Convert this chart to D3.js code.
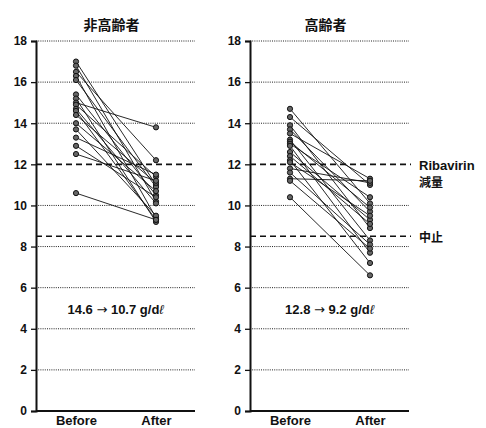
<!DOCTYPE html>
<html>
<head>
<meta charset="utf-8">
<script src="https://cdn.jsdelivr.net/npm/d3@7"></script>
<style>
  html, body { margin: 0; padding: 0; background: #fff; }
  svg { display: block; }
  text { font-family: "Liberation Sans", Arial, sans-serif; font-weight: bold; fill: #111; }
</style>
</head>
<body>
<svg id="chart" width="486" height="428"></svg>
<script>
// Hemoglobin (g/dl) before and after treatment, paired per patient
const panelTitles = ["非高齢者", "高齢者"];
const timepoints = ["Before", "After"];
const yTicks = [0, 2, 4, 6, 8, 10, 12, 14, 16, 18];
const thresholds = [12, 8.5];
const thresholdLabels = [["Ribavirin", "減量"], ["中止"]];
const meanBefore = ["14.6", "12.8"];
const meanAfter = ["10.7", "9.2"];

const beforeNonElderly = [17.0, 16.8, 16.5, 16.3, 16.1, 15.4, 15.2, 15.0, 14.9, 14.7, 14.6, 14.4, 14.0, 13.7, 13.3, 12.9, 12.5, 10.6];
const afterNonElderly  = [11.0, 10.2, 12.2, 9.4, 10.9, 10.5, 9.2, 13.8, 11.4, 10.1, 9.3, 11.1, 10.7, 9.5, 11.5, 10.4, 11.2, 9.3];
const beforeElderly    = [14.7, 14.3, 13.9, 13.7, 13.5, 13.2, 13.1, 13.0, 12.9, 12.6, 12.4, 12.2, 12.1, 11.8, 11.6, 11.3, 11.2, 10.4];
const afterElderly     = [10.1, 11.0, 8.9, 9.7, 11.3, 8.3, 9.9, 10.4, 7.7, 9.3, 9.1, 7.2, 9.5, 11.1, 8.1, 11.2, 7.9, 6.6];

const panels = [
  { title: panelTitles[0], before: beforeNonElderly, after: afterNonElderly, mb: meanBefore[0], ma: meanAfter[0], left: 36, right: 195, dashEnd: 195 },
  { title: panelTitles[1], before: beforeElderly, after: afterElderly, mb: meanBefore[1], ma: meanAfter[1], left: 250, right: 409, dashEnd: 411 }
];

const svg = d3.select("#chart");
const y = d3.scaleLinear().domain([0, 18]).range([411, 41]);

panels.forEach((p, pi) => {
  const g = svg.append("g");
  const x = d3.scalePoint().domain(timepoints).range([p.left + 40, p.left + 120]);

  // dotted gridlines
  g.selectAll("line.grid").data(yTicks.filter(t => t > 0 && t !== 12)).enter()
    .append("line")
    .attr("x1", p.left).attr("x2", p.right)
    .attr("y1", d => y(d)).attr("y2", d => y(d))
    .attr("stroke", "#222").attr("stroke-width", 1)
    .attr("stroke-dasharray", "1,1.2");

  // threshold dashed lines
  g.selectAll("line.thr").data(thresholds).enter()
    .append("line")
    .attr("x1", p.left).attr("x2", p.dashEnd)
    .attr("y1", d => y(d)).attr("y2", d => y(d))
    .attr("stroke", "#111").attr("stroke-width", 1.6)
    .attr("stroke-dasharray", "6,4");

  // y axis
  const yAxis = d3.axisLeft(y).tickValues(yTicks).tickSize(5).tickPadding(4).tickFormat(d3.format("d"));
  const ya = g.append("g").attr("transform", `translate(${p.left},0)`).call(yAxis);
  ya.select(".domain").attr("stroke", "#111").attr("stroke-width", 2);
  ya.selectAll(".tick line").attr("stroke", "#111").attr("stroke-width", 1.3);
  ya.selectAll(".tick text").attr("font-size", 12).attr("fill", "#111")
    .style("font-family", "'Liberation Sans', Arial, sans-serif").style("font-weight", "bold");

  // x axis baseline and labels
  const xa = g.append("g").attr("transform", `translate(0,${y(0)})`)
    .call(d3.axisBottom(x).tickSize(0).tickPadding(5));
  xa.select(".domain").attr("d", `M${p.left},0H${p.right}`).attr("stroke", "#111").attr("stroke-width", 2);
  xa.selectAll(".tick text").attr("font-size", 13).attr("fill", "#111")
    .style("font-family", "'Liberation Sans', Arial, sans-serif").style("font-weight", "bold");

  // paired lines
  const pairs = p.before.map((b, i) => ({ b, a: p.after[i] }));
  g.selectAll("line.pair").data(pairs).enter()
    .append("line")
    .attr("x1", x("Before")).attr("x2", x("After"))
    .attr("y1", d => y(d.b)).attr("y2", d => y(d.a))
    .attr("stroke", "#111").attr("stroke-width", 0.9);

  // points
  const pts = pairs.flatMap(d => [{ t: "Before", v: d.b }, { t: "After", v: d.a }]);
  g.selectAll("circle").data(pts).enter()
    .append("circle")
    .attr("cx", d => x(d.t)).attr("cy", d => y(d.v)).attr("r", 2.6)
    .attr("fill", "#666").attr("stroke", "#111").attr("stroke-width", 1);

  // title
  g.append("text").attr("x", (p.left + p.right) / 2 - 4).attr("y", 30)
    .attr("text-anchor", "middle").attr("font-size", 14)
    .style("font-family", "'Noto Sans CJK JP', sans-serif").style("font-weight", "bold")
    .text(p.title);

  // mean change annotation
  const t = g.append("text").attr("x", (p.left + p.right) / 2).attr("y", 314)
    .attr("text-anchor", "middle").attr("font-size", 13);
  t.append("tspan").text(p.mb + " ");
  t.append("tspan").style("font-family", "'DejaVu Sans', sans-serif").style("font-weight", "normal").text("→");
  t.append("tspan").text(" " + p.ma + " g/d");
  t.append("tspan").style("font-style", "italic").style("font-weight", "normal").text("ℓ");
});

// threshold labels on the right
thresholds.forEach((t, i) => {
  const lines = thresholdLabels[i];
  lines.forEach((s, j) => {
    svg.append("text").attr("x", 419).attr("y", y(t) + 6 + j * 17)
      .attr("font-size", j === 0 && i === 0 ? 13 : 12)
      .style("font-family", j === 0 && i === 0 ? "'Liberation Sans', Arial, sans-serif" : "'Noto Sans CJK JP', sans-serif")
      .style("font-weight", "bold")
      .text(s);
  });
});
</script>
</body>
</html>
